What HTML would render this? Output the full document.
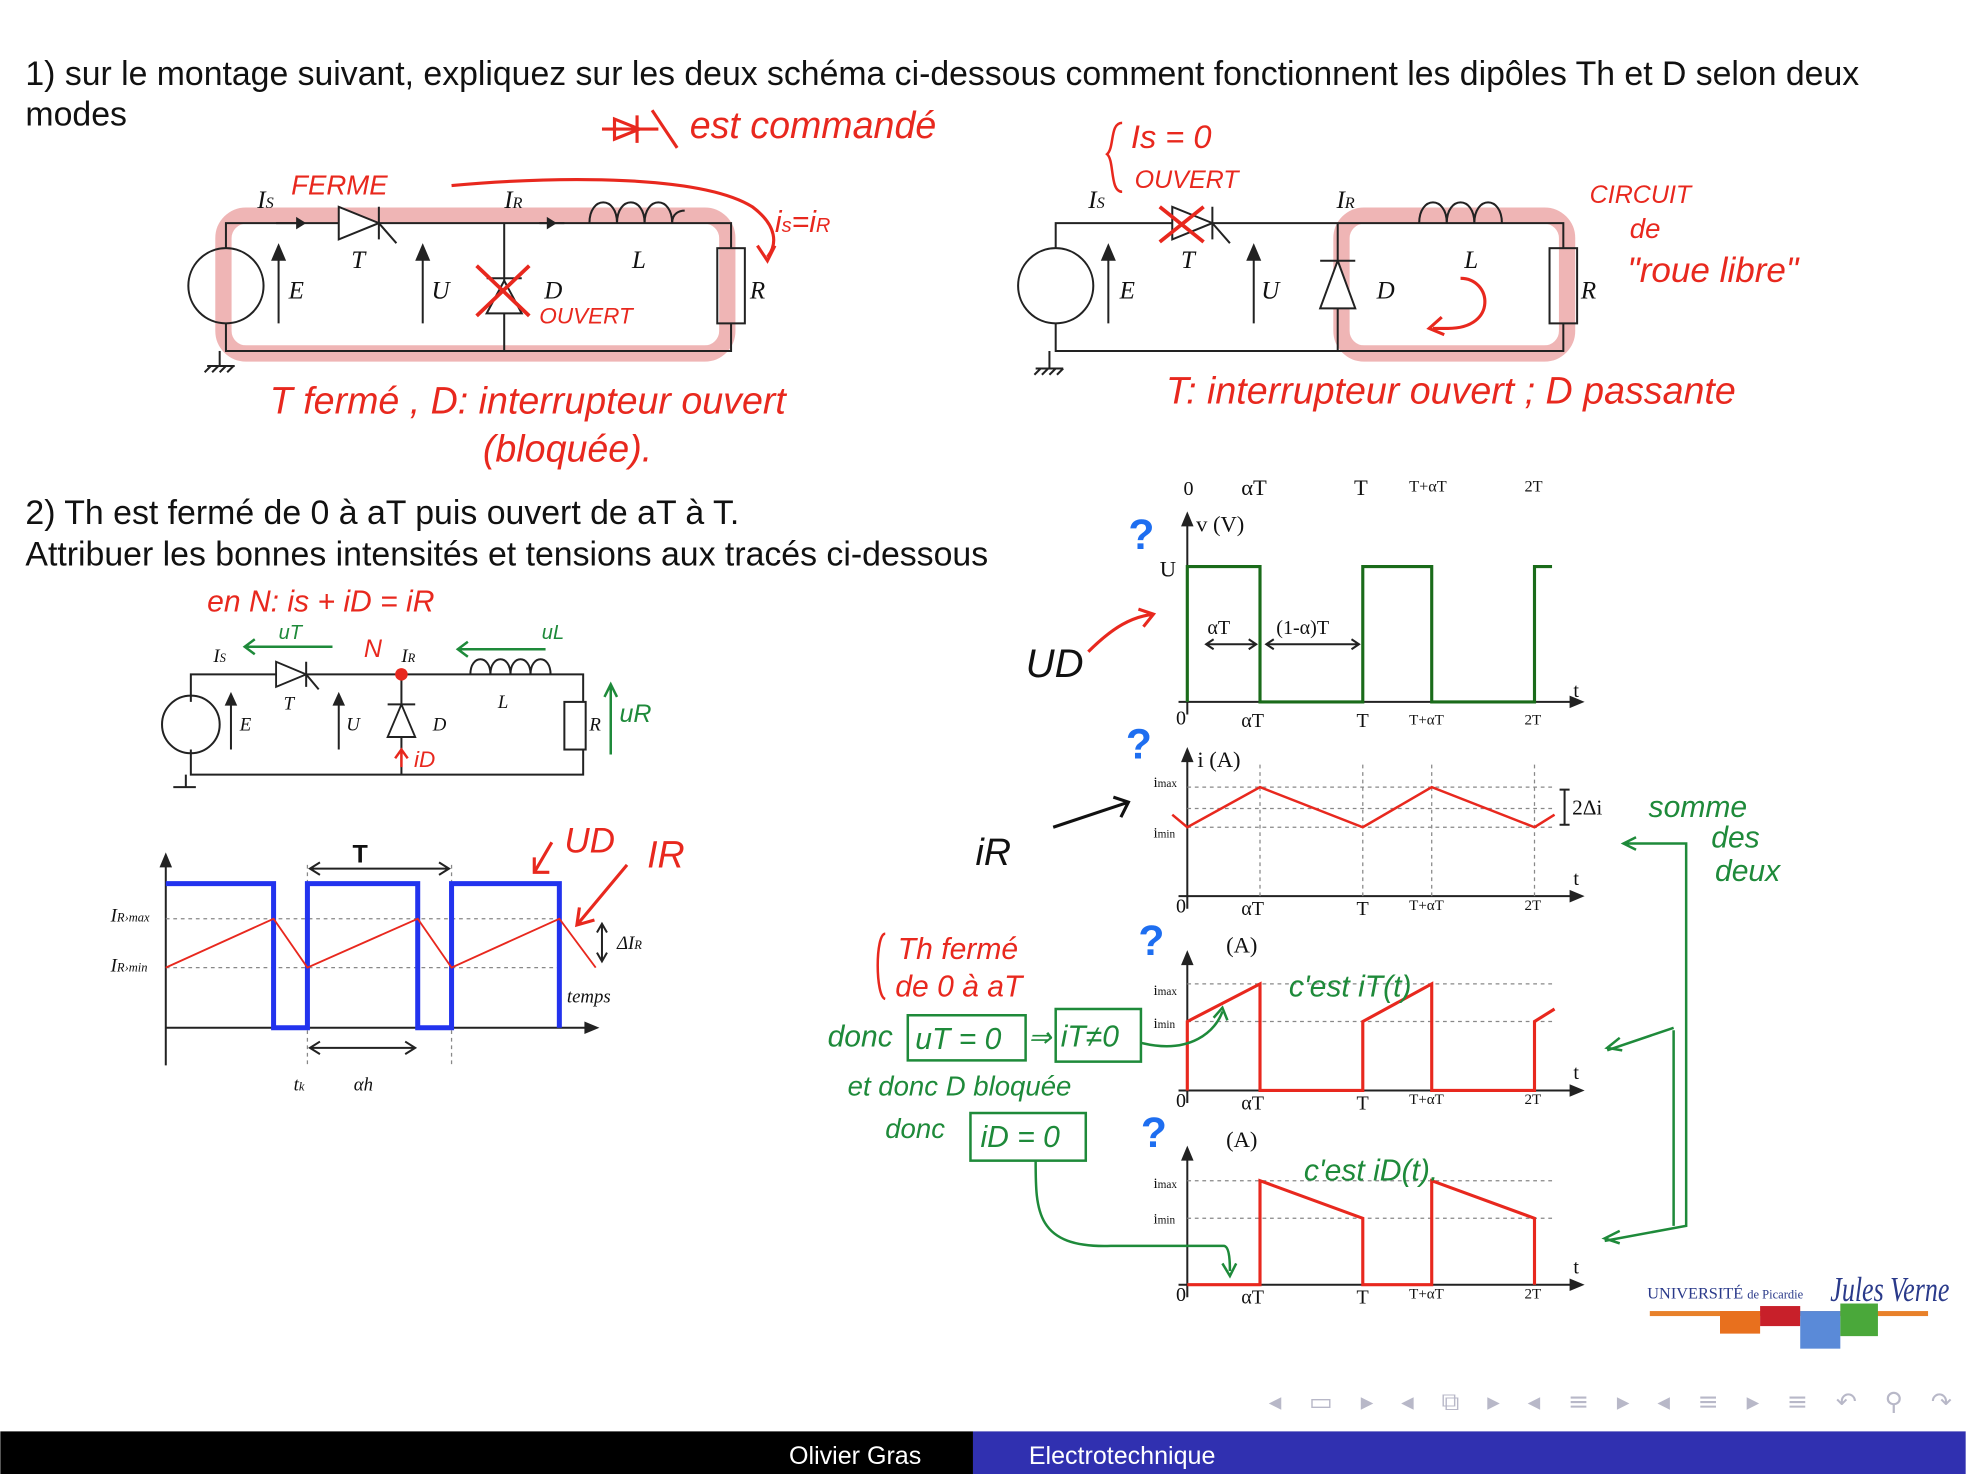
<!DOCTYPE html>
<html><head><meta charset="utf-8"><style>
html,body{margin:0;padding:0;background:#fff;}
svg{display:block}
.t{font-family:"Liberation Sans",sans-serif;fill:#111}
.s{font-family:"Liberation Serif",serif;fill:#111;font-style:italic}
.sl{font-family:"Liberation Serif",serif;fill:#111}
.h{font-family:"Liberation Sans",sans-serif;font-style:italic;fill:#e8281e}
.g{font-family:"Liberation Sans",sans-serif;font-style:italic;fill:#1e8a3a}
.w{stroke:#222;stroke-width:1.6;fill:none}
</style></head><body>
<svg width="1966" height="1474" viewBox="0 0 1568 1176" xmlns="http://www.w3.org/2000/svg">
<rect width="1568" height="1176" fill="#fff"/>
<text class="t" x="20" y="68" font-size="27" textLength="1463" lengthAdjust="spacingAndGlyphs">1) sur le montage suivant, expliquez sur les deux schéma ci-dessous comment fonctionnent les dipôles Th et D selon deux</text>
<text class="t" x="20" y="100" font-size="27">modes</text>

<!-- Circuit 1 -->
<g>
<rect x="178" y="172" width="402" height="110" rx="18" fill="none" stroke="#eba3a3" stroke-width="13" opacity="0.8"/>
<path class="w" d="M180 198V178H583V198M583 258V280H180V258M402 178V280"/>
<circle class="w" cx="180" cy="228" r="30"/>
<path class="w" d="M165 292h22M168 292l-5 5M174 292l-5 5M180 292l-5 5M186 292l-5 5"/><path class="w" d="M175 280v12"/>
<rect class="w" x="572" y="198" width="22" height="60" fill="#fff"/>
<path d="M270 165v26l32-13z" fill="#fff" stroke="#222" stroke-width="1.6"/><path class="w" d="M302 165v26M302 178l14 16"/>
<path d="M388 250h28l-14-26z" fill="#fff" stroke="#222" stroke-width="1.6"/><path class="w" d="M388 222h28"/>
<path class="w" d="M470 178c0-22 22-22 22 0c0-22 22-22 22 0c0-22 22-22 22 0c0-8 6-10 10-10"/>
<path class="w" d="M222 258V205M337 258V205"/><path d="M216 208l6-14 6 14zM331 208l6-14 6 14z" fill="#222"/>
<path class="w" d="M220 178h20M430 178h20"/><path d="M236 173l8 5-8 5zM436 173l8 5-8 5z" fill="#222"/>
<text class="s" x="205" y="166" font-size="20">I<tspan font-size="13">S</tspan></text>
<text class="s" x="280" y="214" font-size="20">T</text>
<text class="s" x="230" y="238" font-size="20">E</text>
<text class="s" x="344" y="238" font-size="20">U</text>
<text class="s" x="402" y="166" font-size="20">I<tspan font-size="13">R</tspan></text>
<text class="s" x="504" y="214" font-size="20">L</text>
<text class="s" x="434" y="238" font-size="20">D</text>
<text class="s" x="598" y="238" font-size="20">R</text>
<path d="M380 212l42 40M422 212l-42 40" stroke="#e8281e" stroke-width="3"/>
<text class="h" x="232" y="155" font-size="22">FERME</text>
<text class="h" x="430" y="258" font-size="18">OUVERT</text>
<path d="M360 148C450 140 560 140 600 165C620 180 620 195 612 205" stroke="#e8281e" stroke-width="2.5" fill="none"/>
<path d="M604 196l8 12 6-12" stroke="#e8281e" stroke-width="2.5" fill="none"/>
<text class="h" x="618" y="185" font-size="24">i<tspan font-size="16">s</tspan>=i<tspan font-size="16">R</tspan></text>
<text class="h" x="215" y="330" font-size="30">T fermé ,  D: interrupteur ouvert</text>
<text class="h" x="385" y="368" font-size="30">(bloquée).</text>
<path d="M480 103h45M508 92v22M490 95l20 8-20 8zM520 88l20 30" stroke="#e8281e" stroke-width="2.5" fill="none"/>
<text class="h" x="550" y="110" font-size="30">est commandé</text>
</g>

<!-- Circuit 2 -->
<g>
<rect x="1070" y="172" width="180" height="110" rx="18" fill="none" stroke="#eba3a3" stroke-width="13" opacity="0.8"/>
<path class="w" d="M842 198V178H1247V198M1247 258V280H842V258M1067 178V280"/>
<circle class="w" cx="842" cy="228" r="30"/>
<path class="w" d="M826 294h22M830 294l-5 5M836 294l-5 5M842 294l-5 5M848 294l-5 5M837 280v14"/>
<rect class="w" x="1236" y="198" width="22" height="60" fill="#fff"/>
<path d="M935 165v26l32-13z" fill="#fff" stroke="#222" stroke-width="1.6"/><path class="w" d="M967 165v26M967 178l14 16"/>
<path d="M1053 246h28l-14-38z" fill="#fff" stroke="#222" stroke-width="1.6"/><path class="w" d="M1053 208h28"/>
<path class="w" d="M1132 178c0-22 22-22 22 0c0-22 22-22 22 0c0-22 22-22 22 0"/>
<path class="w" d="M884 258V205M1000 258V205"/><path d="M878 208l6-14 6 14zM994 208l6-14 6 14z" fill="#222"/>
<text class="s" x="868" y="166" font-size="20">I<tspan font-size="13">S</tspan></text>
<text class="s" x="942" y="214" font-size="20">T</text>
<text class="s" x="893" y="238" font-size="20">E</text>
<text class="s" x="1006" y="238" font-size="20">U</text>
<text class="s" x="1066" y="166" font-size="20">I<tspan font-size="13">R</tspan></text>
<text class="s" x="1168" y="214" font-size="20">L</text>
<text class="s" x="1098" y="238" font-size="20">D</text>
<text class="s" x="1261" y="238" font-size="20">R</text>
<path d="M925 165l35 28M960 165l-35 28" stroke="#e8281e" stroke-width="3"/>
<path d="M1165 222c25 0 30 40 -10 40h-12" stroke="#e8281e" stroke-width="2.5" fill="none"/><path d="M1150 253l-10 9 12 5" stroke="#e8281e" stroke-width="2.5" fill="none"/>
<text class="h" x="902" y="118" font-size="26">Is = 0</text>
<text class="h" x="905" y="150" font-size="20">OUVERT</text>
<path d="M895 98c-10 0-6 20-12 25c6 5 2 30 12 30" stroke="#e8281e" stroke-width="2" fill="none"/>
<text class="h" x="1268" y="162" font-size="20">CIRCUIT</text>
<text class="h" x="1300" y="190" font-size="22">de</text>
<text class="h" x="1298" y="225" font-size="28">"roue libre"</text>
<text class="h" x="930" y="322" font-size="30">T: interrupteur ouvert  ;  D passante</text>
</g>

<text class="t" x="20" y="418" font-size="27">2) Th est fermé de 0 à  aT puis ouvert de aT à T.</text>
<text class="t" x="20" y="451" font-size="27">Attribuer les bonnes intensités et tensions aux tracés ci-dessous</text>
<text class="h" x="165" y="488" font-size="24">en N: is + iD = iR</text>

<!-- Circuit 3 -->
<g>
<path class="w" d="M152 560V538H465V560M465 598V618H152V598M320 538V618"/>
<circle class="w" cx="152" cy="578" r="23"/>
<path class="w" d="M138 628h18M148 618v10"/>
<rect class="w" x="450" y="560" width="17" height="38" fill="#fff"/>
<path d="M220 528v20l24-10z" fill="#fff" stroke="#222" stroke-width="1.5"/><path class="w" d="M244 528v20M244 538l10 12"/>
<path d="M309 588h22l-11-26z" fill="#fff" stroke="#222" stroke-width="1.5"/><path class="w" d="M309 562h22"/>
<path class="w" d="M375 538c0-16 16-16 16 0c0-16 16-16 16 0c0-16 16-16 16 0c0-16 16-16 16 0"/>
<path class="w" d="M184 598V560M270 598V560"/><path d="M179 563l5-11 5 11zM265 563l5-11 5 11z" fill="#222"/>
<circle cx="320" cy="538" r="5" fill="#e8281e"/>
<text class="s" x="170" y="528" font-size="15">I<tspan font-size="10">S</tspan></text>
<text class="s" x="226" y="566" font-size="15">T</text>
<text class="s" x="191" y="583" font-size="15">E</text>
<text class="s" x="276" y="583" font-size="15">U</text>
<text class="s" x="320" y="528" font-size="15">I<tspan font-size="10">R</tspan></text>
<text class="s" x="397" y="565" font-size="15">L</text>
<text class="s" x="345" y="583" font-size="15">D</text>
<text class="s" x="470" y="583" font-size="15">R</text>
<text class="h" x="290" y="524" font-size="20">N</text>
<path d="M487 602V548M482 556l5-10 5 10" stroke="#1e8a3a" stroke-width="2" fill="none"/>
<text class="g" x="494" y="576" font-size="20">uR</text>
<path d="M195 516h70M203 510l-8 6 8 6M365 518h70M373 512l-8 6 8 6" stroke="#1e8a3a" stroke-width="2" fill="none"/>
<text class="g" x="222" y="510" font-size="16">uT</text>
<text class="g" x="432" y="510" font-size="16">uL</text>
<path d="M320 612v-12M315 605l5-7 5 7" stroke="#e8281e" stroke-width="2" fill="none"/>
<text class="h" x="330" y="612" font-size="18">iD</text>
</g>

<!-- Bottom-left waveform -->
<g>
<path class="w" d="M132 850V684M132 820H470" stroke-width="2"/><path d="M127 692l5-12 5 12zM466 815l12 5-12 5z" fill="#222"/>
<path d="M132 733H450M132 772H450M245 690V850M360 690V850" stroke="#888" stroke-width="1" stroke-dasharray="3 3" fill="none"/>
<path d="M132 705H218V820H245V705H333V820H360V705H446V820" stroke="#2233ee" stroke-width="4" fill="none"/>
<path d="M132 772L218 733L245 772L333 733L360 772L446 733L475 772" stroke="#e8281e" stroke-width="1.5" fill="none"/>
<path class="w" d="M248 693H357M255 688l-8 5 8 5M350 688l8 5-8 5M248 836H330M255 831l-8 5 8 5M323 831l8 5-8 5"/>
<path class="w" d="M480 738v28M476 744l4-7 4 7M476 760l4 7 4-7"/>
<text class="s" x="88" y="735" font-size="15">I<tspan font-size="10">R›max</tspan></text>
<text class="s" x="88" y="775" font-size="15">I<tspan font-size="10">R›min</tspan></text>
<text class="s" x="492" y="757" font-size="15">ΔI<tspan font-size="10">R</tspan></text>
<text class="s" x="452" y="800" font-size="15">temps</text>
<text class="s" x="234" y="870" font-size="15">t<tspan font-size="10">k</tspan></text>
<text class="s" x="282" y="870" font-size="15">αh</text>
<text class="t" x="281" y="688" font-size="20" font-weight="bold">T</text>
<path d="M440 672l-14 24M426 684v12h12" stroke="#e8281e" stroke-width="2.5" fill="none"/>
<text class="h" x="450" y="680" font-size="28">UD</text>
<path d="M500 690l-40 48M462 724l-2 14 14-4" stroke="#e8281e" stroke-width="2.5" fill="none"/>
<text class="h" x="516" y="692" font-size="30">IR</text>
</g>

<!-- Right graphs -->
<g>
<text class="sl" x="944" y="395" font-size="16">0</text>
<text class="sl" x="990" y="395" font-size="18">αT</text>
<text class="sl" x="1080" y="395" font-size="18">T</text>
<text class="sl" x="1124" y="392" font-size="13">T+αT</text>
<text class="sl" x="1216" y="392" font-size="13">2T</text>
<path class="w" d="M947 570V412M940 560H1255" stroke-width="2"/><path d="M942 420l5-12 5 12zM1252 555l12 5-12 5z" fill="#222"/>
<path d="M947 560V452H1005V560H1087V452H1142V560H1224V452H1238" stroke="#1a6b1a" stroke-width="2.5" fill="none"/>
<path class="w" d="M962 514H1002M1010 514H1084M968 510l-6 4 6 4M996 510l6 4-6 4M1016 510l-6 4 6 4M1078 510l6 4-6 4"/>
<text class="sl" x="954" y="424" font-size="18">v (V)</text>
<text class="sl" x="925" y="460" font-size="18">U</text>
<text class="sl" x="963" y="506" font-size="16">αT</text>
<text class="sl" x="1018" y="506" font-size="16">(1-α)T</text>
<text class="sl" x="1255" y="556" font-size="16">t</text>
<g font-size="16" class="sl"><text x="938" y="578">0</text><text x="990" y="580">αT</text><text x="1082" y="580">T</text><text x="1124" y="578" font-size="12">T+αT</text><text x="1216" y="578" font-size="12">2T</text></g>
<path class="w" d="M947 725V600M940 715H1255" stroke-width="2"/><path d="M942 608l5-12 5 12zM1252 710l12 5-12 5z" fill="#222"/>
<path d="M947 628H1240M947 645H1240M947 660H1240M1005 610V715M1087 610V715M1142 610V715M1224 610V715" stroke="#888" stroke-width="1" stroke-dasharray="3 3"/>
<path d="M935 650L947 660L1005 628L1087 660L1142 628L1224 660L1240 650" stroke="#e8281e" stroke-width="2" fill="none"/>
<path class="w" d="M1248 630v28M1244 630h8M1244 658h8"/>
<text class="sl" x="955" y="612" font-size="18">i (A)</text>
<text class="sl" x="920" y="628" font-size="12">i<tspan font-size="9">max</tspan></text>
<text class="sl" x="920" y="668" font-size="12">i<tspan font-size="9">min</tspan></text>
<text class="sl" x="1254" y="650" font-size="17">2Δi</text>
<text class="sl" x="1255" y="706" font-size="16">t</text>
<g font-size="16" class="sl"><text x="938" y="728">0</text><text x="990" y="730">αT</text><text x="1082" y="730">T</text><text x="1124" y="726" font-size="12">T+αT</text><text x="1216" y="726" font-size="12">2T</text></g>
<path class="w" d="M947 880V762M940 870H1255" stroke-width="2"/><path d="M942 770l5-12 5 12zM1252 865l12 5-12 5z" fill="#222"/>
<path d="M947 785H1240M947 815H1240" stroke="#888" stroke-width="1" stroke-dasharray="3 3"/>
<path d="M947 870V815L1005 785V870H1087V815L1142 785V870H1224V815L1240 805" stroke="#e8281e" stroke-width="2.5" fill="none"/>
<text class="sl" x="978" y="760" font-size="18">(A)</text>
<text class="sl" x="920" y="794" font-size="12">i<tspan font-size="9">max</tspan></text>
<text class="sl" x="920" y="820" font-size="12">i<tspan font-size="9">min</tspan></text>
<text class="sl" x="1255" y="861" font-size="16">t</text>
<g font-size="16" class="sl"><text x="938" y="883">0</text><text x="990" y="885">αT</text><text x="1082" y="885">T</text><text x="1124" y="881" font-size="12">T+αT</text><text x="1216" y="881" font-size="12">2T</text></g>
<path class="w" d="M947 1035V918M940 1025H1255" stroke-width="2"/><path d="M942 926l5-12 5 12zM1252 1020l12 5-12 5z" fill="#222"/>
<path d="M947 942H1240M947 972H1240" stroke="#888" stroke-width="1" stroke-dasharray="3 3"/>
<path d="M947 1025H1005V942L1087 972V1025H1142V942L1224 972V1025" stroke="#e8281e" stroke-width="2.5" fill="none"/>
<text class="sl" x="978" y="915" font-size="18">(A)</text>
<text class="sl" x="920" y="948" font-size="12">i<tspan font-size="9">max</tspan></text>
<text class="sl" x="920" y="976" font-size="12">i<tspan font-size="9">min</tspan></text>
<text class="sl" x="1255" y="1016" font-size="16">t</text>
<g font-size="16" class="sl"><text x="938" y="1038">0</text><text x="990" y="1040">αT</text><text x="1082" y="1040">T</text><text x="1124" y="1036" font-size="12">T+αT</text><text x="1216" y="1036" font-size="12">2T</text></g>
</g>

<g font-family="Liberation Sans,sans-serif" font-weight="bold" fill="#1e6ef0" font-size="34">
<text x="900" y="438">?</text><text x="898" y="605">?</text><text x="908" y="762">?</text><text x="910" y="915">?</text>
</g>

<text x="818" y="540" font-family="Liberation Sans,sans-serif" font-style="italic" font-size="32" fill="#111">UD</text>
<path d="M868 520c20-20 35-28 52-30M908 486l12 4-8 10" stroke="#e8281e" stroke-width="2.5" fill="none"/>
<text x="778" y="690" font-family="Liberation Sans,sans-serif" font-style="italic" font-size="30" fill="#111">iR</text>
<path d="M840 660l60-20M888 636l12 4-6 12" stroke="#111" stroke-width="2.5" fill="none"/>
<text class="g" x="1315" y="652" font-size="24">somme</text>
<text class="g" x="1365" y="676" font-size="24">des</text>
<text class="g" x="1368" y="703" font-size="24">deux</text>
<path d="M1296 673H1345V978L1280 990M1335 820L1282 838M1305 668l-10 5 10 5M1292 828l-10 8 12 2M1292 982l-12 6 12 4" stroke="#1e8a3a" stroke-width="2" fill="none"/>
<path d="M1335 822V978" stroke="#1e8a3a" stroke-width="2"/>
<path d="M706 745c-8 0-8 50 0 52" stroke="#e8281e" stroke-width="2" fill="none"/>
<text class="h" x="716" y="765" font-size="24">Th fermé</text>
<text class="h" x="714" y="795" font-size="24">de 0 à aT</text>
<text class="g" x="660" y="835" font-size="24">donc</text>
<rect x="724" y="810" width="94" height="36" fill="none" stroke="#1e8a3a" stroke-width="2"/>
<text class="g" x="730" y="837" font-size="24">uT = 0</text>
<text class="g" x="820" y="835" font-size="22">⇒</text>
<rect x="842" y="805" width="68" height="42" fill="none" stroke="#1e8a3a" stroke-width="2"/>
<text class="g" x="846" y="835" font-size="24">iT≠0</text>
<text class="g" x="676" y="874" font-size="22">et donc D bloquée</text>
<text class="g" x="706" y="908" font-size="22">donc</text>
<rect x="774" y="888" width="92" height="38" fill="none" stroke="#1e8a3a" stroke-width="2"/>
<text class="g" x="782" y="915" font-size="24">iD = 0</text>
<path d="M910 832c40 10 60-10 65-25M968 812l7-8 4 10" stroke="#1e8a3a" stroke-width="2" fill="none"/>
<path d="M826 926c0 40 0 70 60 68h90c5 0 5 15 5 20M975 1008l6 10 5-10" stroke="#1e8a3a" stroke-width="2" fill="none"/>
<text class="g" x="1028" y="795" font-size="24">c'est iT(t)</text>
<text class="g" x="1040" y="942" font-size="24">c'est iD(t).</text>

<g>
<text x="1314" y="1036" font-family="Liberation Serif,serif" font-size="13" fill="#2a3a8a">UNIVERSITÉ <tspan font-size="10">de Picardie</tspan></text>
<text x="1460" y="1038" font-family="Liberation Serif,serif" font-style="italic" font-size="28" fill="#2a3a8a" textLength="95" lengthAdjust="spacingAndGlyphs">Jules Verne</text>
<rect x="1316" y="1046" width="222" height="4" fill="#e8812a"/>
<rect x="1372" y="1046" width="32" height="18" fill="#e8701e"/>
<rect x="1404" y="1042" width="32" height="16" fill="#c8202a"/>
<rect x="1436" y="1046" width="32" height="30" fill="#5a8ad8"/>
<rect x="1468" y="1040" width="30" height="26" fill="#4aa83a"/>
</g>

<g fill="#b8b8c8" font-family="DejaVu Sans,sans-serif" font-size="20">
<text x="1012" y="1125" textLength="545" lengthAdjust="spacing">◂ ▭ ▸  ◂ ⧉ ▸  ◂ ≡ ▸  ◂ ≡ ▸   ≡   ↶ ⚲ ↷</text>
</g>

<rect x="0" y="1142" width="776" height="34" fill="#000"/>
<rect x="776" y="1142" width="792" height="34" fill="#3030b0"/>
<text x="682" y="1168" text-anchor="middle" font-family="Liberation Sans,sans-serif" font-size="20" fill="#fff">Olivier Gras</text>
<text x="895" y="1168" text-anchor="middle" font-family="Liberation Sans,sans-serif" font-size="20" fill="#fff">Electrotechnique</text>
</svg>
</body></html>
